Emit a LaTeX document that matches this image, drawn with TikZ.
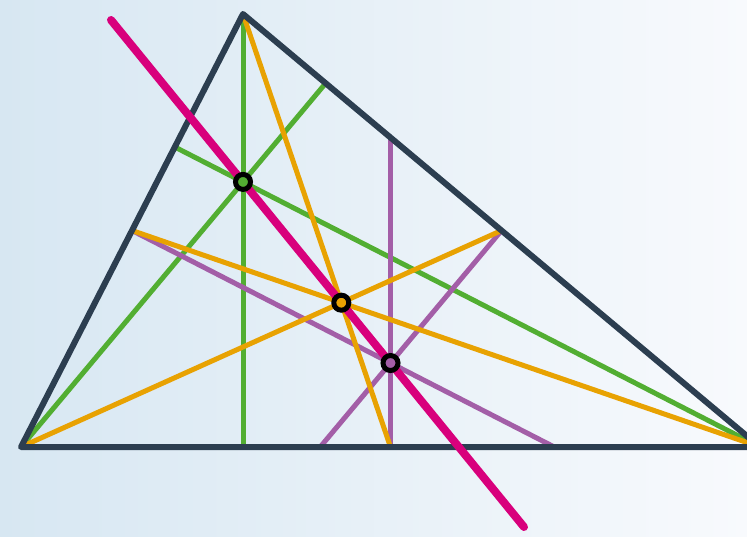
\documentclass[tikz,border=0pt]{standalone}
\definecolor{bgL}{HTML}{D7E7F2}
\definecolor{bgR}{HTML}{F8FAFD}
\definecolor{tri}{HTML}{2C3E50}
\definecolor{altc}{HTML}{52AE32}
\definecolor{medc}{HTML}{E8A202}
\definecolor{bisc}{HTML}{A35EA7}
\definecolor{eulc}{HTML}{D8007C}
\tikzset{
  altline/.style={draw=altc, line width=5pt},
  medline/.style={draw=medc, line width=5pt},
  bisline/.style={draw=bisc, line width=5pt},
  triline/.style={draw=tri, line width=6pt, line join=round, line cap=round},
  eulline/.style={draw=eulc, line width=8pt, line cap=round},
  centre/.style={circle, draw=black, line width=5pt, minimum size=15pt, inner sep=0pt}
}
\begin{document}
\begin{tikzpicture}[x=1pt,y=-1pt]
\useasboundingbox (0,0) rectangle (747,536);
\clip (0,0) rectangle (747,536);
\shade[left color=bgL, right color=bgR] (0,0) rectangle (747,536);
% vertices
\coordinate (A) at (21,447);
\coordinate (B) at (243,14);
\coordinate (C) at (760,447);
% midpoints
\coordinate (Mac) at (390.5,447);
\coordinate (Mbc) at (501.5,230.5);
\coordinate (Mab) at (132,230.5);
% feet of altitudes
\coordinate (Fb) at (243,447);
\coordinate (Fa) at (325.7,83.2);
\coordinate (Fc) at (174.8,147.0);
% ends of perpendicular bisectors
\coordinate (Pac) at (390.5,137.5);
\coordinate (Pbc) at (320.2,447);
\coordinate (Pab) at (554.3,447);
% centres
\coordinate (H) at (243,181.9);
\coordinate (G) at (341.3,302.7);
\coordinate (O) at (390.5,363.0);
% Euler line ends
\coordinate (E1) at (111,20);
\coordinate (E2) at (524,527);
% altitudes
\draw[altline] (B) -- (Fb);
\draw[altline] (A) -- (Fa);
\draw[altline] (C) -- (Fc);
% perpendicular bisectors
\draw[bisline] (Mac) -- (Pac);
\draw[bisline] (Mbc) -- (Pbc);
\draw[bisline] (Mab) -- (Pab);
% medians
\draw[medline] (B) -- (Mac);
\draw[medline] (A) -- (Mbc);
\draw[medline] (C) -- (Mab);
% triangle
\draw[triline] (A) -- (B) -- (C) -- cycle;
% Euler line
\draw[eulline] (E1) -- (E2);
% centres
\node[centre, fill=altc] (h) at (H) {};
\node[centre, fill=medc] (g) at (G) {};
\node[centre, fill=bisc] (o) at (O) {};
\end{tikzpicture}
\end{document}
